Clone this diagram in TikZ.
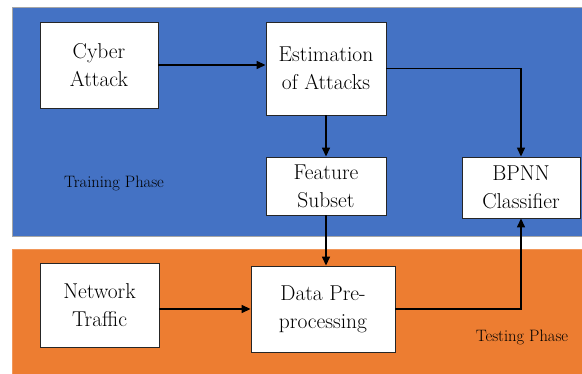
\documentclass[tikz,border=0pt]{standalone}
\usetikzlibrary{arrows.meta}
\definecolor{phaseblue}{HTML}{4472C4}
\definecolor{phaseorange}{HTML}{ED7D31}
\begin{document}
\begin{tikzpicture}[x=1pt,y=-1pt,
  box/.style={draw=black!85,line width=0.9pt,fill=white,align=center,inner sep=0pt,
    font=\fontsize{21.5}{28}\selectfont},
  conn/.style={line width=1.4pt,-{Triangle[length=9pt,width=8pt]}},
  phaselabel/.style={font=\fontsize{16.5}{18}\selectfont}]
\useasboundingbox (0,0) rectangle (582,374);
\fill[white] (0,0) rectangle (582,374);
\draw[fill=phaseblue,draw=black!35,line width=0.6pt] (12,7) rectangle (583,236);
\draw[fill=phaseorange,draw=phaseorange!80!white,line width=0.6pt] (12,249) rectangle (583,375);
\node[box,minimum width=118pt,minimum height=86pt] (cyber) at (99,65) {Cyber\\Attack};
\node[box,minimum width=120pt,minimum height=93pt] (est) at (326,68.5) {Estimation\\of Attacks};
\node[box,minimum width=120pt,minimum height=58pt] (feat) at (326,186) {Feature\\Subset};
\node[box,minimum width=118pt,minimum height=61pt] (bpnn) at (521,187.5) {BPNN\\Classifier};
\node[box,minimum width=144pt,minimum height=86pt] (data) at (323,309) {Data Pre-\\processing};
\node[box,minimum width=119pt,minimum height=84pt] (net) at (99.5,305) {Network\\Traffic};
\node[phaselabel] (train) at (114,183) {Training Phase};
\node[phaselabel] (test) at (522,337) {Testing Phase};
\draw[conn] (cyber.east) -- (cyber.east -| est.west);
\draw[conn] (est.east) -| (bpnn.north);
\draw[conn] (est.south) -- (est.south |- feat.north);
\draw[conn] (feat.south) -- (feat.south |- data.north);
\draw[conn] (net.east |- data.west) -- (data.west);
\draw[conn] (data.east) -| (bpnn.south);
\end{tikzpicture}
\end{document}
